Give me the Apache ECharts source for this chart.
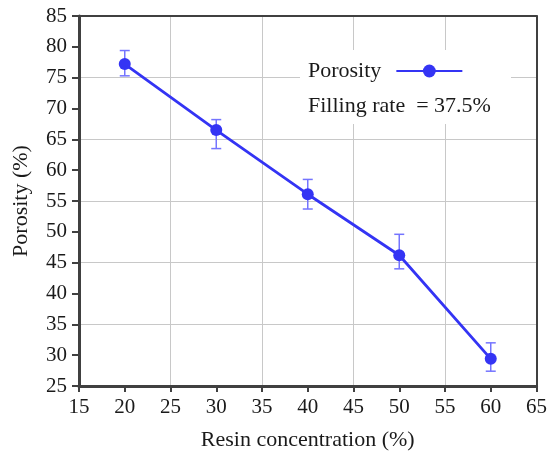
<!DOCTYPE html>
<html>
<head>
<meta charset="utf-8">
<script src="https://cdn.jsdelivr.net/npm/echarts@6/dist/echarts.min.js"></script>
<style>
  html, body { margin: 0; padding: 0; background: #fff; }
  #chart { width: 550px; height: 456px; }
</style>
</head>
<body>
<div id="chart"></div>
<script>
// Resin concentration (%) and measured porosity (%) with error range
const resin = [20, 30, 40, 50, 60];
const porosity = [77.2, 66.5, 56.1, 46.2, 29.4];
const errHigh = [79.4, 68.2, 58.5, 49.6, 32.0];
const errLow = [75.3, 63.5, 53.7, 44.0, 27.4];

const FONT = 'Liberation Serif';
const AXIS = '#404040';
const GRID = '#c8c8c8';
const LINE = '#3434f4';
const ERR = '#7474ff';

const chart = echarts.init(document.getElementById('chart'), null, { renderer: 'canvas' });

const tickStyle = { fontFamily: FONT, fontSize: 21, color: '#1a1a1a' };
const titleStyle = { fontFamily: FONT, fontSize: 22, color: '#1a1a1a' };

chart.setOption({
  animation: false,
  backgroundColor: '#fff',
  grid: { left: 79, right: 11, top: 16, bottom: 69 },
  xAxis: [
    {
      type: 'value', min: 15, max: 65, interval: 5,
      name: 'Resin concentration (%)', nameLocation: 'middle', nameGap: 43,
      nameTextStyle: titleStyle,
      axisLine: { show: true, onZero: false, lineStyle: { color: AXIS, width: 3 } },
      axisTick: { show: true, length: 6, lineStyle: { color: AXIS, width: 2 } },
      axisLabel: Object.assign({ margin: 11 }, tickStyle),
      splitLine: { show: false }
    },
    {
      // frame on top + grid lines every 10 starting at 25
      type: 'value', min: 15, max: 65, interval: 10, position: 'top',
      axisLine: { show: true, onZero: false, lineStyle: { color: AXIS, width: 2 } },
      axisTick: { show: false }, axisLabel: { show: false },
      splitLine: { show: true, lineStyle: { color: GRID, width: 1 } }
    }
  ],
  yAxis: [
    {
      type: 'value', min: 25, max: 85, interval: 5,
      name: 'Porosity (%)', nameLocation: 'middle', nameGap: 47,
      nameTextStyle: titleStyle,
      axisLine: { show: true, onZero: false, lineStyle: { color: AXIS, width: 3 } },
      axisTick: { show: true, length: 7, lineStyle: { color: AXIS, width: 2 } },
      axisLabel: Object.assign({ margin: 12 }, tickStyle),
      splitLine: { show: false }
    },
    {
      type: 'value', min: 25, max: 85, interval: 10, position: 'right',
      axisLine: { show: true, onZero: false, lineStyle: { color: AXIS, width: 2 } },
      axisTick: { show: false }, axisLabel: { show: false },
      splitLine: { show: true, lineStyle: { color: GRID, width: 1 } }
    }
  ],
  legend: {
    left: 300, top: 58,
    align: 'right',
    itemWidth: 66, itemHeight: 16,
    padding: [2, 8, 2, 8],
    textStyle: { fontFamily: FONT, fontSize: 22, color: '#1a1a1a', padding: [0, 10, 0, 0] },
    data: ['Porosity']
  },
  graphic: [
    { type: 'rect', z: 3, shape: { x: 300, y: 50, width: 211, height: 74 }, style: { fill: '#fff' } },
    {
      type: 'text', z: 5, left: 308, top: 95,
      style: { text: 'Filling rate  = 37.5%', font: '22px "Liberation Serif"', fill: '#1a1a1a' }
    }
  ],
  series: [
    {
      name: 'Porosity',
      type: 'line',
      data: resin.map((x, i) => [x, porosity[i]]),
      symbol: 'circle', symbolSize: 12,
      itemStyle: { color: LINE },
      lineStyle: { color: LINE, width: 2.8 },
      z: 4
    },
    {
      name: 'error',
      type: 'custom',
      data: resin.map((x, i) => [x, errLow[i], errHigh[i]]),
      renderItem: function (params, api) {
        const lo = api.coord([api.value(0), api.value(1)]);
        const hi = api.coord([api.value(0), api.value(2)]);
        const w = 5;
        const st = { stroke: ERR, lineWidth: 1.5, fill: null };
        return {
          type: 'group',
          children: [
            { type: 'line', shape: { x1: lo[0], y1: lo[1], x2: hi[0], y2: hi[1] }, style: st },
            { type: 'line', shape: { x1: lo[0] - w, y1: lo[1], x2: lo[0] + w, y2: lo[1] }, style: st },
            { type: 'line', shape: { x1: hi[0] - w, y1: hi[1], x2: hi[0] + w, y2: hi[1] }, style: st }
          ]
        };
      },
      z: 3
    }
  ]
});
</script>
</body>
</html>
